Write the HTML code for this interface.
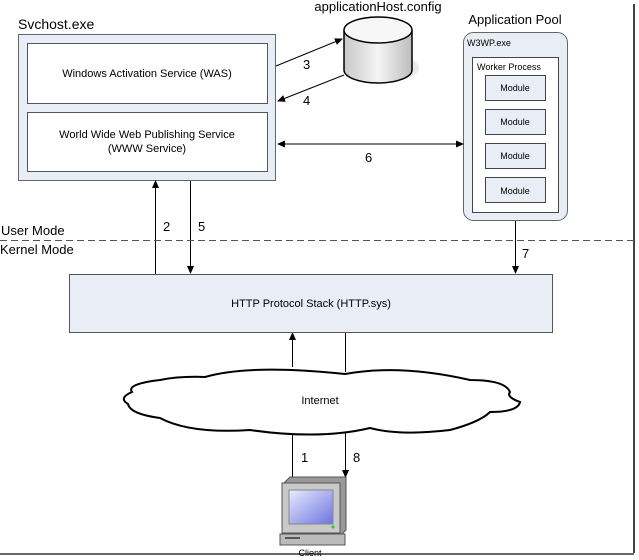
<!DOCTYPE html>
<html><head><meta charset="utf-8"><style>
html,body{margin:0;padding:0;background:#fff}
svg{display:block;font-family:"Liberation Sans",Arial,sans-serif}
</style></head><body>
<svg width="639" height="560" viewBox="0 0 639 560" xmlns="http://www.w3.org/2000/svg">
<defs>
<marker id="a" markerWidth="8" markerHeight="8" refX="7" refY="4" orient="auto" markerUnits="userSpaceOnUse"><path d="M0,0.5 L8,4 L0,7.5z" fill="#000"/></marker>
<linearGradient id="cyl" x1="0" x2="1"><stop offset="0" stop-color="#c8c8c8"/><stop offset="0.5" stop-color="#f4f4f4"/><stop offset="1" stop-color="#bdbdbd"/></linearGradient>
<linearGradient id="scr" x1="0" y1="0" x2="1" y2="1"><stop offset="0" stop-color="#e8ecff"/><stop offset="1" stop-color="#6c74e0"/></linearGradient>
</defs>
<line x1="634" y1="4" x2="634" y2="553" stroke="#444" stroke-width="2"/>
<line x1="0" y1="554" x2="634" y2="554" stroke="#666" stroke-width="2"/>
<text x="18" y="29" font-size="14">Svchost.exe</text>
<rect x="18.5" y="34.5" width="257" height="146" fill="#e8edf6" stroke="#666"/>
<rect x="27.5" y="43.5" width="240" height="60" fill="#fff" stroke="#555"/>
<rect x="27.5" y="112.5" width="240" height="59" fill="#fff" stroke="#555"/>
<text x="147" y="77" font-size="11" text-anchor="middle">Windows Activation Service (WAS)</text>
<text x="147" y="138" font-size="11" text-anchor="middle">World Wide Web Publishing Service</text>
<text x="147" y="152" font-size="11" text-anchor="middle">(WWW Service)</text>
<text x="378" y="11" font-size="13" text-anchor="middle">applicationHost.config</text>
<ellipse cx="385" cy="68" rx="34" ry="14" fill="#ddd" opacity="0.6"/>
<path d="M344,30 L344,70 A34,13 0 0 0 412,70 L412,30" fill="url(#cyl)" stroke="#000" stroke-width="1.5"/>
<ellipse cx="378" cy="30" rx="34" ry="13" fill="#f7f7f7" stroke="#000" stroke-width="1.5"/>
<text x="515" y="24" font-size="13" text-anchor="middle">Application Pool</text>
<rect x="463.5" y="32.5" width="104" height="188" rx="10" fill="#e8edf6" stroke="#666"/>
<text x="467" y="46" font-size="9">W3WP.exe</text>
<rect x="472.5" y="57.5" width="86" height="155" fill="#fff" stroke="#444"/>
<text x="477" y="70" font-size="9">Worker Process</text>
<g font-size="9" text-anchor="middle">
<rect x="485.5" y="75.5" width="60" height="25" fill="#e8edf6" stroke="#444"/><text x="515" y="91">Module</text>
<rect x="485.5" y="109.5" width="60" height="25" fill="#e8edf6" stroke="#444"/><text x="515" y="125">Module</text>
<rect x="485.5" y="143.5" width="60" height="25" fill="#e8edf6" stroke="#444"/><text x="515" y="159">Module</text>
<rect x="485.5" y="177.5" width="60" height="25" fill="#e8edf6" stroke="#444"/><text x="515" y="194">Module</text>
</g>
<g stroke="#000" stroke-width="1" fill="none">
<line x1="276" y1="66" x2="342" y2="39" marker-end="url(#a)"/>
<line x1="344" y1="75" x2="278" y2="101" marker-end="url(#a)"/>
<line x1="463" y1="144" x2="278" y2="144" marker-end="url(#a)"/>
<line x1="278" y1="144" x2="463" y2="144" marker-end="url(#a)"/>
<line x1="155.5" y1="274" x2="155.5" y2="181" marker-end="url(#a)"/>
<line x1="190.5" y1="181" x2="190.5" y2="273" marker-end="url(#a)"/>
<line x1="515.5" y1="221" x2="515.5" y2="273" marker-end="url(#a)"/>
<line x1="292.5" y1="367" x2="292.5" y2="333" marker-end="url(#a)"/>
<line x1="345.5" y1="333" x2="345.5" y2="372"/>
<line x1="292.5" y1="478" x2="292.5" y2="434"/>
<line x1="345.5" y1="432" x2="345.5" y2="477" marker-end="url(#a)"/>
</g>
<line x1="0" y1="240.5" x2="634" y2="240.5" stroke="#555" stroke-dasharray="7,4"/>
<text x="1" y="235" font-size="13">User Mode</text>
<text x="0" y="254" font-size="13">Kernel Mode</text>
<g font-size="13"><text x="163" y="231">2</text><text x="198" y="231">5</text><text x="303" y="69">3</text><text x="303" y="105">4</text><text x="365" y="162">6</text><text x="522" y="258">7</text><text x="301" y="462">1</text><text x="353" y="462">8</text></g>
<rect x="69.5" y="274.5" width="483" height="58" fill="#e8edf6" stroke="#555"/>
<text x="311" y="307" font-size="11" text-anchor="middle">HTTP Protocol Stack (HTTP.sys)</text>
<path d="M205,377 Q250,364 345,374 Q400,364 470,380 Q505,380 510,392 Q506,397 520,402 Q518,412 490,412 Q480,422 450,430 Q400,436 370,428 Q320,440 250,430 Q190,434 160,418 Q130,414 128,404 Q118,398 132,392 Q126,384 160,380 Q180,376 205,377z" fill="#fff" stroke="#000" stroke-width="2"/>
<text x="320" y="404" font-size="11" text-anchor="middle">Internet</text>
<path d="M284,483 L290,477 L346,477 L346,530 L340,536 Z" fill="#999" stroke="#555"/>
<rect x="282" y="483" width="58" height="50" fill="#c9c9c9" stroke="#555"/>
<rect x="289" y="490" width="44" height="34" fill="url(#scr)" stroke="#888"/>
<circle cx="333" cy="527" r="1.5" fill="#2c2"/>
<rect x="280" y="534" width="65" height="11" fill="#bbb" stroke="#555"/>
<line x1="285" y1="538" x2="300" y2="538" stroke="#333" stroke-width="1.5"/>
<text x="310" y="556" font-size="9" text-anchor="middle">Client</text>
</svg>
</body></html>
